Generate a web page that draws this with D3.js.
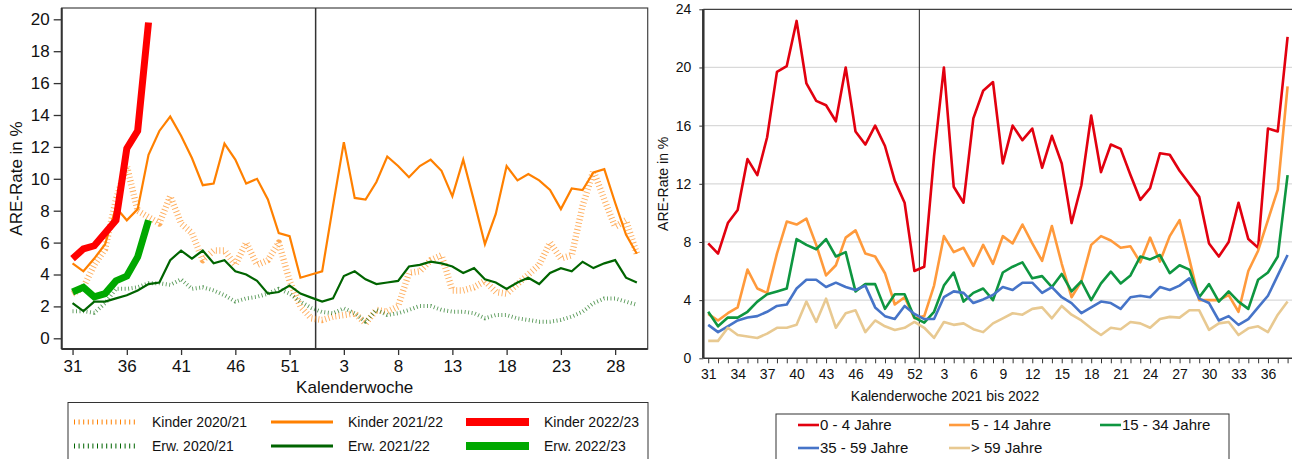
<!DOCTYPE html>
<html>
<head>
<meta charset="utf-8">
<script src="https://cdnjs.cloudflare.com/ajax/libs/d3/7.8.5/d3.min.js"></script>
<style>
  html, body { margin: 0; padding: 0; background: #fff; }
  svg { display: block; font-family: 'Liberation Sans', Arial, sans-serif; }
</style>
</head>
<body>
<svg id="chart" width="1292" height="459"></svg>
<script>
// ---- left panel: season comparison (2020/21 has week 53) ----
const leftWeeks = [31,32,33,34,35,36,37,38,39,40,41,42,43,44,45,46,47,48,49,50,51,52,53,
  1,2,3,4,5,6,7,8,9,10,11,12,13,14,15,16,17,18,19,20,21,22,23,24,25,26,27,28,29,30];
const leftTickIdx = [0,5,10,15,20,25,30,35,40,45,50];
const leftYTicks = [0,2,4,6,8,10,12,14,16,18,20];

const kinder2021 = [2.8,3.2,4.6,5.6,8.7,10.8,8.0,7.6,7.2,8.9,7.2,6.6,4.9,5.5,5.5,4.6,6.0,4.6,4.9,6.0,3.6,2.0,1.25,
  1.15,1.36,1.46,1.57,0.94,1.78,1.67,2.0,4.1,4.2,4.9,5.2,3.0,3.0,3.2,3.6,2.9,2.8,3.4,4.0,4.6,6.0,5.0,5.2,8.3,10.5,8.7,7.0,7.4,5.3];
const kinder2122 = [4.7,4.2,5.0,5.9,8.2,7.4,8.1,11.5,13.0,13.9,12.7,11.3,9.6,9.7,12.2,11.2,9.7,10.0,8.7,6.6,6.4,3.8,4.0,
  4.2,8.3,12.3,8.8,8.7,9.8,11.4,10.8,10.1,10.8,11.2,10.5,8.9,11.2,8.6,5.9,7.8,10.8,9.9,10.3,9.9,9.3,8.1,9.4,9.3,10.4,10.6,8.5,6.5,5.3];
const kinder2223 = [5.0,5.6,5.8,6.6,7.4,11.9,13.0,19.8];
const erw2021 = [1.7,1.7,1.6,2.2,3.1,3.1,3.2,3.45,3.45,3.35,3.7,3.1,3.2,3.0,2.7,2.3,2.5,2.6,2.8,3.1,2.8,2.3,1.9,
  1.65,1.57,1.88,1.57,1.04,1.78,1.46,1.57,1.78,2.03,2.03,1.78,1.67,1.67,1.57,1.25,1.46,1.46,1.25,1.15,1.04,1.04,1.15,1.36,1.67,2.2,2.5,2.5,2.3,2.1];
const erw2122 = [2.2,1.7,2.3,2.3,2.5,2.7,3.0,3.4,3.5,4.9,5.5,5.0,5.5,4.7,4.9,4.2,4.0,3.6,2.8,2.9,3.3,2.8,2.55,
  2.3,2.5,3.9,4.2,3.7,3.4,3.5,3.6,4.5,4.6,4.8,4.7,4.5,4.1,4.4,3.7,3.5,3.1,3.5,3.8,3.4,4.1,4.4,4.2,4.8,4.4,4.7,4.9,3.8,3.5];
const erw2223 = [2.9,3.2,2.6,2.8,3.6,3.9,5.1,7.4];

const leftSeries = [
  { name: 'Kinder 2020/21', values: kinder2021, color: '#ff8000', width: 6.5, dash: '0.9 2.6', style: 'dot' },
  { name: 'Erw. 2020/21',   values: erw2021,    color: '#006400', width: 4,   dash: '0.9 2.6', style: 'dot' },
  { name: 'Kinder 2021/22', values: kinder2122, color: '#ff8000', width: 2.2, style: 'solid' },
  { name: 'Erw. 2021/22',   values: erw2122,    color: '#006400', width: 2.2, style: 'solid' },
  { name: 'Kinder 2022/23', values: kinder2223, color: '#ff0000', width: 7, style: 'thick' },
  { name: 'Erw. 2022/23',   values: erw2223,    color: '#00a800', width: 7, style: 'thick' }
];
const leftLegendOrder = ['Kinder 2020/21','Kinder 2021/22','Kinder 2022/23','Erw. 2020/21','Erw. 2021/22','Erw. 2022/23'];

// ---- right panel: age groups 2021/22 ----
const rightWeeks = [31,32,33,34,35,36,37,38,39,40,41,42,43,44,45,46,47,48,49,50,51,52,
  1,2,3,4,5,6,7,8,9,10,11,12,13,14,15,16,17,18,19,20,21,22,23,24,25,26,27,28,29,30,31,32,33,34,35,36,37,38];
const rightYTicks = [0,4,8,12,16,20,24];

const age0to4 = [7.9,7.2,9.3,10.2,13.7,12.6,15.2,19.7,20.1,23.2,18.9,17.7,17.4,16.3,20.0,15.6,14.7,16.0,14.6,12.2,10.7,6.0,
  6.3,13.9,20.0,11.8,10.7,16.5,18.4,19.0,13.4,16.0,15.0,15.8,13.1,15.3,13.4,9.3,11.9,16.7,12.8,14.7,14.4,12.6,10.9,11.7,14.1,14.0,12.9,12.0,11.1,7.9,7.0,8.0,10.7,8.2,7.6,15.8,15.6,22.1];
const age5to14 = [3.05,2.6,3.1,3.5,6.1,4.8,4.5,7.2,9.4,9.2,9.6,7.8,5.7,6.4,8.3,8.8,7.2,7.0,5.85,3.7,4.2,2.75,
  2.9,5.0,8.4,7.3,7.6,6.35,7.8,6.5,8.4,7.9,9.2,7.9,6.7,9.1,6.5,4.2,5.3,7.8,8.4,8.1,7.6,7.7,6.6,8.3,6.65,8.4,9.5,6.8,4.0,4.0,4.0,4.35,3.2,6.0,7.4,9.5,11.6,18.7];
const age15to34 = [3.2,2.2,2.8,2.8,3.2,3.9,4.4,4.6,4.8,8.2,7.8,7.5,8.2,7.0,7.3,4.6,5.1,5.1,3.4,4.4,4.4,2.8,
  2.45,3.2,5.0,5.9,3.9,4.5,4.8,4.0,5.9,6.3,6.6,5.5,5.65,4.9,5.8,4.6,5.3,4.0,5.15,5.96,5.15,5.7,7.0,6.8,7.1,5.85,6.4,6.1,4.2,5.1,3.9,4.6,3.9,3.4,5.4,5.9,7.0,12.6];
const age35to59 = [2.3,1.8,2.2,2.6,2.8,2.9,3.2,3.6,3.7,4.8,5.4,5.4,4.9,5.2,4.9,4.7,5.0,3.5,2.9,2.7,3.6,3.05,
  2.7,2.7,4.2,4.6,4.5,3.8,4.05,4.35,4.9,4.7,5.2,5.2,4.5,4.9,4.2,3.8,3.1,3.5,3.9,3.8,3.4,4.2,4.3,4.2,4.9,4.7,5.0,5.5,4.1,3.8,2.6,2.9,2.3,2.7,3.5,4.3,5.7,7.1];
const age60plus = [1.2,1.2,2.1,1.6,1.5,1.4,1.7,2.1,2.1,2.3,3.9,2.5,4.1,2.1,3.1,3.3,1.8,2.6,2.2,1.95,2.1,2.5,
  2.1,1.4,2.5,2.3,2.4,2.0,1.8,2.4,2.75,3.1,3.0,3.4,3.5,2.75,3.6,3.0,2.6,2.06,1.6,2.1,2.0,2.5,2.4,2.1,2.7,2.85,2.8,3.3,3.3,1.95,2.4,2.5,1.6,2.06,2.2,1.8,3.0,3.9];

const rightSeries = [
  { name: '0 - 4 Jahre',   values: age0to4,   color: '#e2000f' },
  { name: '5 - 14 Jahre',  values: age5to14,  color: '#ff9a3c' },
  { name: '15 - 34 Jahre', values: age15to34, color: '#0e9640' },
  { name: '35 - 59 Jahre', values: age35to59, color: '#4674c8' },
  { name: '> 59 Jahre',    values: age60plus, color: '#e8c991' }
];

const svg = d3.select('#chart');

// ================= LEFT PANEL =================
(function drawLeft() {
  const box = { left: 61.7, right: 647.7, top: 8, bottom: 349 };
  const x = d3.scaleLinear().domain([-1, 53]).range([box.left, box.right]);
  const y = d3.scaleLinear().domain([0, 20]).range([338.3, 19.3]);
  const g = svg.append('g').attr('class', 'left');

  g.append('rect')
    .attr('x', box.left).attr('y', box.top)
    .attr('width', box.right - box.left).attr('height', box.bottom - box.top)
    .attr('fill', 'none').attr('stroke', '#444').attr('stroke-width', 1.2);

  // season break line
  g.append('line')
    .attr('x1', x(22.4)).attr('x2', x(22.4))
    .attr('y1', box.top).attr('y2', box.bottom)
    .attr('stroke', '#333').attr('stroke-width', 1.5);

  const yAxis = g.append('g')
    .attr('transform', `translate(${box.left},0)`)
    .call(d3.axisLeft(y).tickValues(leftYTicks).tickSize(8).tickPadding(4));
  yAxis.select('.domain').attr('stroke', '#333').attr('stroke-width', 2)
    .attr('d', `M0,${box.top}V${box.bottom}`);
  yAxis.selectAll('.tick line').attr('stroke', '#333').attr('stroke-width', 1.3);
  yAxis.selectAll('text').style('font-size', '17px').attr('fill', '#111');

  const xAxis = g.append('g')
    .attr('transform', `translate(0,${box.bottom})`)
    .call(d3.axisBottom(x).tickValues(leftTickIdx).tickFormat(i => leftWeeks[i]).tickSize(6).tickPadding(5));
  xAxis.select('.domain').attr('stroke', '#333').attr('stroke-width', 2)
    .attr('d', `M${box.left},0H${box.right}`);
  xAxis.selectAll('.tick line').attr('stroke', '#333').attr('stroke-width', 1.3);
  xAxis.selectAll('text').style('font-size', '17px').attr('fill', '#111');

  g.append('text')
    .attr('x', (box.left + box.right) / 2).attr('y', 393)
    .attr('text-anchor', 'middle').style('font-size', '17px').attr('fill', '#111')
    .text('Kalenderwoche');

  g.append('text')
    .attr('transform', `translate(22,${(box.top + box.bottom) / 2}) rotate(-90)`)
    .attr('text-anchor', 'middle').style('font-size', '17px').attr('fill', '#111')
    .text('ARE-Rate in %');

  const line = d3.line().x((d, i) => x(i)).y(d => y(d));
  leftSeries.forEach(s => {
    g.append('path')
      .datum(s.values)
      .attr('fill', 'none')
      .attr('stroke', s.color)
      .attr('stroke-width', s.width)
      .attr('stroke-opacity', s.style === 'dot' ? 0.65 : 1)
      .attr('stroke-dasharray', s.dash || null)
      .attr('stroke-linejoin', s.style === 'dot' ? 'round' : 'miter')
      .attr('d', line);
  });

  // legend
  const lg = g.append('g');
  lg.append('rect').attr('x', 68).attr('y', 402.5).attr('width', 580).attr('height', 70)
    .attr('fill', 'none').attr('stroke', '#333').attr('stroke-width', 1);
  const colX = [[74, 135, 152], [271, 333, 348], [466, 529, 544]];
  const rowY = [422, 446];
  leftLegendOrder.forEach((name, k) => {
    const s = leftSeries.find(d => d.name === name);
    const c = colX[k % 3], ry = rowY[Math.floor(k / 3)];
    lg.append('line')
      .attr('x1', c[0]).attr('x2', c[1]).attr('y1', ry).attr('y2', ry)
      .attr('stroke', s.color)
      .attr('stroke-width', s.style === 'dot' ? 5 : (s.style === 'thick' ? 8 : 3))
      .attr('stroke-dasharray', s.style === 'dot' ? '1 3.6' : null);
    lg.append('text').attr('x', c[2]).attr('y', ry).attr('dy', '0.35em')
      .style('font-size', '14px').attr('fill', '#111').text(name);
  });
})();

// ================= RIGHT PANEL =================
(function drawRight() {
  const box = { left: 703.3, right: 1292.5, top: 9.3, bottom: 358.3 };
  const x = d3.scaleLinear().domain([-0.5, 59.5]).range([box.left, box.right]);
  const y = d3.scaleLinear().domain([0, 24]).range([box.bottom, box.top]);
  const g = svg.append('g').attr('class', 'right');

  // gridlines
  g.append('g').selectAll('line').data(rightYTicks.filter(v => v > 0 && v < 24)).join('line')
    .attr('x1', box.left).attr('x2', box.right)
    .attr('y1', d => y(d)).attr('y2', d => y(d))
    .attr('stroke', '#d9d9d9').attr('stroke-width', 1.2);

  g.append('line')
    .attr('x1', box.left).attr('x2', box.right).attr('y1', box.top).attr('y2', box.top)
    .attr('stroke', '#111').attr('stroke-width', 1);

  g.append('line')
    .attr('x1', x(21.5)).attr('x2', x(21.5)).attr('y1', box.top).attr('y2', box.bottom)
    .attr('stroke', '#222').attr('stroke-width', 1);

  const yAxis = g.append('g')
    .attr('transform', `translate(${box.left},0)`)
    .call(d3.axisLeft(y).tickValues(rightYTicks).tickSize(4).tickPadding(8));
  yAxis.select('.domain').attr('stroke', '#333').attr('stroke-width', 2.5)
    .attr('d', `M0,${box.top}V${box.bottom}`);
  yAxis.selectAll('.tick line').attr('stroke', '#333');
  yAxis.selectAll('text').style('font-size', '14px').attr('fill', '#111');

  const xAxis = g.append('g')
    .attr('transform', `translate(0,${box.bottom})`)
    .call(d3.axisBottom(x).tickValues(d3.range(0, 60)).tickSize(5).tickPadding(6)
      .tickFormat(i => i % 3 === 0 ? rightWeeks[i] : ''));
  xAxis.select('.domain').attr('stroke', '#333').attr('stroke-width', 1.5)
    .attr('d', `M${box.left},0H${box.right}`);
  xAxis.selectAll('.tick line').attr('stroke', '#333');
  xAxis.selectAll('text').style('font-size', '14px').attr('fill', '#111');

  g.append('text')
    .attr('x', 945).attr('y', 401)
    .attr('text-anchor', 'middle').style('font-size', '14px').attr('fill', '#111')
    .text('Kalenderwoche 2021 bis 2022');

  g.append('text')
    .attr('transform', `translate(668,${(box.top + box.bottom) / 2}) rotate(-90)`)
    .attr('text-anchor', 'middle').style('font-size', '14px').attr('fill', '#111')
    .text('ARE-Rate in %');

  const line = d3.line().x((d, i) => x(i)).y(d => y(d));
  rightSeries.forEach(s => {
    g.append('path')
      .datum(s.values)
      .attr('fill', 'none')
      .attr('stroke', s.color)
      .attr('stroke-width', 2.6)
      .attr('stroke-linejoin', 'round')
      .attr('d', line);
  });

  // legend
  const lg = g.append('g');
  lg.append('rect').attr('x', 776).attr('y', 414).attr('width', 453).attr('height', 60)
    .attr('fill', 'none').attr('stroke', '#333').attr('stroke-width', 1);
  const colX = [798, 949, 1100];
  const rowY = [425, 448];
  rightSeries.forEach((s, k) => {
    const cx = colX[k % 3], ry = rowY[Math.floor(k / 3)];
    lg.append('line').attr('x1', cx).attr('x2', cx + 21).attr('y1', ry).attr('y2', ry)
      .attr('stroke', s.color).attr('stroke-width', 2.6);
    lg.append('text').attr('x', cx + 22).attr('y', ry).attr('dy', '0.35em')
      .style('font-family', "'Liberation Sans Narrow', 'Liberation Sans', Arial, sans-serif")
      .style('font-size', '15px').attr('fill', '#111').text(s.name);
  });
})();
</script>
</body>
</html>
